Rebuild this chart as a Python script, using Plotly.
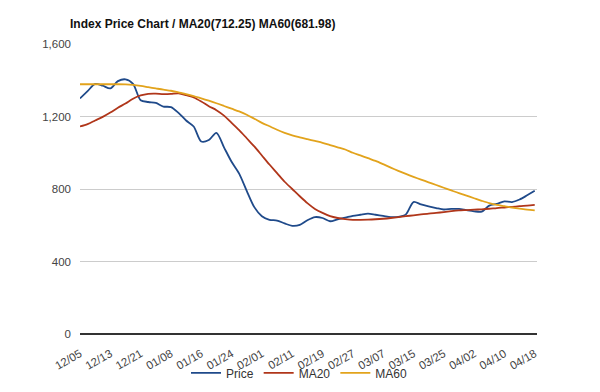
import plotly.graph_objects as go

tick_labels = ["12/05", "12/13", "12/21", "01/08", "01/16", "01/24", "02/01", "02/11",
               "02/19", "02/27", "03/07", "03/15", "03/25", "04/02", "04/10", "04/18"]

price = [1300, 1340, 1380, 1370, 1355, 1395, 1405, 1380, 1290, 1280,
         1275, 1255, 1252, 1220, 1178, 1145, 1062, 1070, 1110, 1030,
         950, 885, 790, 700, 650, 630, 626, 610, 597, 602,
         628, 645, 640, 622, 633, 642, 652, 658, 664, 658,
         652, 645, 646, 660, 728, 715, 704, 695, 687, 690,
         690, 683, 677, 675, 708, 718, 732, 728, 742, 765, 790]

ma20 = [1145, 1158, 1178, 1198, 1222, 1248, 1272, 1298, 1316, 1325,
        1326, 1324, 1325, 1328, 1318, 1305, 1283, 1257, 1235, 1205,
        1165, 1125, 1080, 1035, 985, 935, 888, 840, 800, 760,
        722, 690, 668, 650, 640, 634, 630, 630, 631, 633,
        636, 640, 645, 650, 655, 660, 664, 668, 673, 678,
        682, 684, 686, 688, 691, 695, 698, 701, 705, 708, 712]

ma60 = [1378, 1378, 1378, 1378, 1378, 1378, 1377, 1374, 1369, 1362,
        1355, 1348, 1342, 1333, 1324, 1313, 1300, 1287, 1273, 1258,
        1243, 1228, 1210, 1188, 1165, 1146, 1127, 1110, 1096, 1085,
        1075, 1065, 1055, 1042, 1030, 1018, 1000, 985, 970, 955,
        937, 918, 900, 883, 867, 852, 837, 822, 807, 792,
        777, 763, 749, 735, 722, 712, 705, 698, 692, 686, 682]

x = list(range(len(price)))
step = (len(price) - 1) // (len(tick_labels) - 1)
tickvals = [i * step for i in range(len(tick_labels))]

fig = go.Figure()
series = [("Price", price, "#1f4a8a"), ("MA20", ma20, "#b0361a"), ("MA60", ma60, "#e2a31c")]
for name, ys, col in series:
    fig.add_trace(go.Scatter(x=x, y=ys, name=name, mode="lines",
                             line=dict(color=col, width=1.8, shape="spline", smoothing=0.8)))

font = "Liberation Sans, Arial, sans-serif"
fig.update_layout(
    width=600, height=392,
    margin=dict(l=72, r=71, t=36, b=56),
    paper_bgcolor="white", plot_bgcolor="white",
    font=dict(family=font, size=11, color="#444"),
    title=dict(text="<b>Index Price Chart / MA20(712.25) MA60(681.98)</b>",
               x=62 / 600, xref="container", xanchor="left",
               y=1 - 16 / 392, yref="container", yanchor="middle", automargin=False,
               font=dict(family=font, size=12, color="#111")),
    showlegend=True,
    legend=dict(orientation="h", x=(178 - 72) / 457, xanchor="left", y=-54 / 293,
                yanchor="bottom", bgcolor="rgba(0,0,0,0)",
                font=dict(size=12, color="#333"), itemwidth=30, tracegroupgap=0),
    xaxis=dict(range=[0, 60.3], tickvals=tickvals, ticktext=tick_labels, tickangle=-30,
               showgrid=False, zeroline=False, showline=False, ticks="",
               ticklabelstandoff=10, automargin=False,
               tickfont=dict(size=11.5, color="#444")),
    yaxis=dict(range=[0, 1600], tickvals=[0, 400, 800, 1200, 1600], tickformat=",",
               showgrid=True, gridcolor="#cccccc", gridwidth=1, zeroline=True,
               zerolinecolor="#333333", zerolinewidth=1.5, ticks="",
               ticklabelstandoff=8, automargin=False,
               tickfont=dict(size=11.5, color="#444")),
)

fig.write_html("out.html")
